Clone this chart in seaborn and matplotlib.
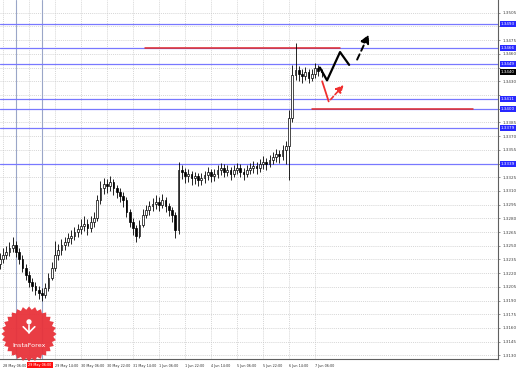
import numpy as np
import pandas as pd
import matplotlib
matplotlib.use("Agg")
import matplotlib.pyplot as plt
import matplotlib.transforms as mtransforms
from matplotlib.patches import Polygon
import seaborn as sns

# ---------------- data ----------------
first_open = 1.3230
closes = [1.3236, 1.3240, 1.3243, 1.3247, 1.3251, 1.3243, 1.3236, 1.3226, 1.3218, 1.3210,
          1.3206, 1.3201, 1.3198, 1.3196, 1.3204, 1.3215, 1.3226, 1.3240, 1.3245, 1.3251,
          1.3254, 1.3258, 1.3261, 1.3265, 1.3268, 1.3272, 1.3274, 1.3269, 1.3276, 1.3280,
          1.3300, 1.3313, 1.3318, 1.3315, 1.3320, 1.3313, 1.3309, 1.3304, 1.3300, 1.3287,
          1.3276, 1.3269, 1.3261, 1.3273, 1.3284, 1.3289, 1.3293, 1.3296, 1.3298, 1.3295,
          1.3300, 1.3293, 1.3289, 1.3284, 1.3267, 1.3333, 1.3331, 1.3326, 1.3328, 1.3324,
          1.3326, 1.3322, 1.3324, 1.3327, 1.3331, 1.3326, 1.3328, 1.3333, 1.3335, 1.3331,
          1.3333, 1.3328, 1.3333, 1.3335, 1.3331, 1.3328, 1.3333, 1.3335, 1.3337, 1.3335,
          1.3339, 1.3342, 1.3339, 1.3344, 1.3347, 1.3350, 1.3348, 1.3355, 1.3359, 1.3390,
          1.3437, 1.3442, 1.3438, 1.3436, 1.3440, 1.3434, 1.3438, 1.3445, 1.3441, 1.3440]
highs = [1.3242, 1.3248, 1.3250, 1.3254, 1.3260, 1.3255, 1.3247, 1.3240, 1.3230, 1.3222,
         1.3215, 1.3210, 1.3206, 1.3204, 1.3209, 1.3220, 1.3232, 1.3255, 1.3252, 1.3257,
         1.3260, 1.3264, 1.3267, 1.3271, 1.3274, 1.3279, 1.3282, 1.3279, 1.3282, 1.3287,
         1.3306, 1.3321, 1.3324, 1.3323, 1.3326, 1.3323, 1.3317, 1.3313, 1.3309, 1.3303,
         1.3290, 1.3280, 1.3273, 1.3278, 1.3290, 1.3295, 1.3299, 1.3302, 1.3305, 1.3303,
         1.3307, 1.3303, 1.3297, 1.3292, 1.3287, 1.3342, 1.3338, 1.3335, 1.3334, 1.3332,
         1.3331, 1.3330, 1.3330, 1.3332, 1.3336, 1.3334, 1.3334, 1.3338, 1.3341, 1.3339,
         1.3338, 1.3336, 1.3338, 1.3341, 1.3339, 1.3335, 1.3338, 1.3341, 1.3343, 1.3342,
         1.3345, 1.3348, 1.3346, 1.3349, 1.3353, 1.3356, 1.3355, 1.3360, 1.3365, 1.3399,
         1.3448, 1.3472, 1.3447, 1.3444, 1.3446, 1.3443, 1.3444, 1.3450, 1.3448, 1.3444]
lows = [1.3224, 1.3231, 1.3235, 1.3239, 1.3243, 1.3238, 1.3230, 1.3221, 1.3212, 1.3205,
        1.3200, 1.3196, 1.3192, 1.3190, 1.3193, 1.3200, 1.3212, 1.3222, 1.3234, 1.3240,
        1.3245, 1.3250, 1.3252, 1.3256, 1.3260, 1.3263, 1.3266, 1.3262, 1.3265, 1.3271,
        1.3277, 1.3296, 1.3307, 1.3308, 1.3310, 1.3306, 1.3302, 1.3298, 1.3292, 1.3281,
        1.3270, 1.3262, 1.3254, 1.3258, 1.3270, 1.3280, 1.3284, 1.3288, 1.3290, 1.3288,
        1.3291, 1.3287, 1.3282, 1.3276, 1.3259, 1.3263, 1.3323, 1.3319, 1.3320, 1.3317,
        1.3318, 1.3315, 1.3316, 1.3319, 1.3322, 1.3320, 1.3321, 1.3324, 1.3327, 1.3325,
        1.3326, 1.3322, 1.3325, 1.3328, 1.3325, 1.3322, 1.3325, 1.3328, 1.3330, 1.3329,
        1.3331, 1.3334, 1.3333, 1.3336, 1.3339, 1.3342, 1.3341, 1.3344, 1.3340, 1.3322,
        1.3385, 1.3431, 1.3430, 1.3428, 1.3431, 1.3428, 1.3430, 1.3434, 1.3436, 1.3435]
bar_start = -1  # index of the first 2-hour bar (28 May 04:00)

time_tick_bars = [0, 8, 16, 24, 32, 40, 48, 56, 64, 72, 80, 88, 96]
time_tick_labels = ["28 May 06:00", "28 May 22:00", "29 May 14:00", "30 May 06:00",
                    "30 May 22:00", "31 May 14:00", "1 Jun 06:00", "1 Jun 22:00",
                    "4 Jun 14:00", "5 Jun 06:00", "5 Jun 22:00", "6 Jun 14:00", "7 Jun 06:00"]
cursor_bar = 12
cursor_label = "29 May 06:00"
marker_bars = [4, 12]

price_ticks = [1.3505, 1.3490, 1.3475, 1.3460, 1.3445, 1.3430, 1.3415, 1.3400, 1.3385,
               1.3370, 1.3355, 1.3340, 1.3325, 1.3310, 1.3295, 1.3280, 1.3265, 1.3250,
               1.3235, 1.3220, 1.3205, 1.3190, 1.3175, 1.3160, 1.3145, 1.3130]
blue_levels = [1.3493, 1.3466, 1.3449, 1.3411, 1.3400, 1.3379, 1.3339]
current_price = 1.3440

red_seg_prices = [1.3466, 1.3400]
red_seg_start = [43.7, 95.1]
red_seg_end = [103.7, 144.6]

zig_x = [97.5, 99.7, 103.7, 106.5]
zig_y = [1.3445, 1.3431, 1.3462, 1.3448]
zig_arrow_x = [108.6, 112.9]
zig_arrow_y = [1.3451, 1.3484]
red_proj_x = [98.2, 100.2]
red_proj_y = [1.3430, 1.3408]
red_arrow_x = [100.8, 104.8]
red_arrow_y = [1.3410, 1.3426]

# ---------------- figure ----------------
sns.set_style("white")
plt.rcParams['font.family'] = ['DejaVu Sans']
W, H = 518, 368
fig = plt.figure(figsize=(W / 100, H / 100), dpi=100)
ax = fig.add_axes([0, 9 / H, 498 / W, 359 / H])
ax.set_xlim(-0.92, 152.3)
ax.set_ylim(1.3126, 1.3519)

# grid
for t in price_ticks:
    ax.axhline(t, color="#c8c8c8", lw=0.5, ls=(0, (1.5, 1.5)), zorder=0)
for b in time_tick_bars:
    ax.axvline(b, color="#c8c8c8", lw=0.5, ls=(0, (1.5, 1.5)), zorder=0)

# vertical marker lines
for b in marker_bars:
    ax.axvline(b, color="#9aa6c8", lw=0.8, zorder=1)

# levels
for lv in blue_levels:
    ax.axhline(lv, color="#7878ff", lw=0.9, zorder=1)
for p, a, b in zip(red_seg_prices, red_seg_start, red_seg_end):
    ax.plot([a, b], [p, p], color="#e02828", lw=1.1, zorder=2)

# candles
df = pd.DataFrame({"close": closes, "high": highs, "low": lows})
df["open"] = [first_open] + closes[:-1]
df["bar"] = np.arange(len(df)) + bar_start
ax.vlines(df["bar"], df["low"], df["high"], color="black", lw=0.6, zorder=3)
bw = 0.6
for _, r in df.iterrows():
    lo, hi = min(r.open, r.close), max(r.open, r.close)
    if hi - lo < 0.00004:
        hi = lo + 0.00004
    fc = "white" if r.close >= r.open else "black"
    ax.add_patch(plt.Rectangle((r.bar - bw / 2, lo), bw, hi - lo, facecolor=fc,
                               edgecolor="black", lw=0.5, zorder=4))

# projections
proj = pd.DataFrame({"x": zig_x, "y": zig_y})
sns.lineplot(data=proj, x="x", y="y", sort=False, color="black", lw=1.6, ax=ax, zorder=6)
ax.annotate("", xy=(zig_arrow_x[1], zig_arrow_y[1]), xytext=(zig_arrow_x[0], zig_arrow_y[0]),
            arrowprops=dict(arrowstyle="-|>,head_length=0.5,head_width=0.25", color="black",
                            lw=1.4, ls=(0, (3, 2))), zorder=6)
rp = pd.DataFrame({"x": red_proj_x, "y": red_proj_y})
sns.lineplot(data=rp, x="x", y="y", sort=False, color="#f03030", lw=1.3, ax=ax, zorder=6)
ax.annotate("", xy=(red_arrow_x[1], red_arrow_y[1]), xytext=(red_arrow_x[0], red_arrow_y[0]),
            arrowprops=dict(arrowstyle="-|>,head_length=0.45,head_width=0.22", color="#f03030",
                            lw=1.2, ls=(0, (2.5, 1.5)), shrinkA=0, shrinkB=0), zorder=6)

# axes styling
for s in ["left", "top"]:
    ax.spines[s].set_visible(False)
for s in ["right", "bottom"]:
    ax.spines[s].set_color("#606060")
    ax.spines[s].set_linewidth(0.8)
ax.set_xlabel("")
ax.set_ylabel("")
ax.yaxis.tick_right()
ax.set_yticks(price_ticks)
tick_texts = []
for t in price_ticks:
    near = any(abs(t - lv) < 0.0005 for lv in blue_levels + [current_price])
    tick_texts.append("" if near else f"{t:.4f}")
ax.set_yticklabels(tick_texts, fontsize=3, color="#404040")
ax.tick_params(axis="y", length=1.5, width=0.4, pad=2, colors="#404040")
ax.set_xticks(time_tick_bars)
# the time label that sits under the red cursor box is hidden by it
x_texts = ["" if abs(b - cursor_bar) < 4.5 and b < cursor_bar else lab
           for b, lab in zip(time_tick_bars, time_tick_labels)]
ax.set_xticklabels(x_texts, fontsize=2.4, color="#303030", ha="left")
ax.tick_params(axis="x", length=2, width=0.4, pad=1.5)

# price labels on the right
trans = mtransforms.blended_transform_factory(ax.transAxes, ax.transData)
for lv in blue_levels:
    ax.text(1.006, lv, f"{lv:.4f}", transform=trans, fontsize=3, color="white",
            va="center", ha="left",
            bbox=dict(boxstyle="square,pad=0.25", fc="#2828ff", ec="none"), zorder=10, clip_on=False)
ax.text(1.006, current_price, f"{current_price:.4f}", transform=trans, fontsize=3, color="white",
        va="center", ha="left",
        bbox=dict(boxstyle="square,pad=0.25", fc="black", ec="none"), zorder=10, clip_on=False)

# cursor time label
transx = mtransforms.blended_transform_factory(ax.transData, ax.transAxes)
ax.text(cursor_bar - 0.6, -0.012, cursor_label, transform=transx, fontsize=2.4, color="white",
        va="top", ha="center",
        bbox=dict(boxstyle="square,pad=0.4", fc="#ff1010", ec="none"), zorder=10, clip_on=False)

# InstaForex badge
lax = fig.add_axes([0, 5 / H, 58 / W, 58 / H])
lax.set_xlim(-1, 1)
lax.set_ylim(-1, 1)
lax.axis("off")
n_teeth = 28
ang = np.linspace(0, 2 * np.pi, 2 * n_teeth, endpoint=False)
rad = np.where(np.arange(2 * n_teeth) % 2 == 0, 0.95, 0.84)
lax.add_patch(Polygon(np.c_[rad * np.cos(ang), rad * np.sin(ang)], closed=True,
                      fc="#e8323a", ec="none", alpha=0.95))
lax.text(0, -0.38, "InstaForex", fontsize=4.6, color="white", ha="center", va="center")
lax.add_patch(plt.Circle((0, 0.42), 0.09, fc="white", ec="none"))
lax.plot([-0.2, 0, 0.2], [0.25, 0.05, 0.25], color="white", lw=1.2)
lax.plot([0, 0], [0.05, 0.32], color="white", lw=1.2)

fig.savefig("out.png", dpi=100)
